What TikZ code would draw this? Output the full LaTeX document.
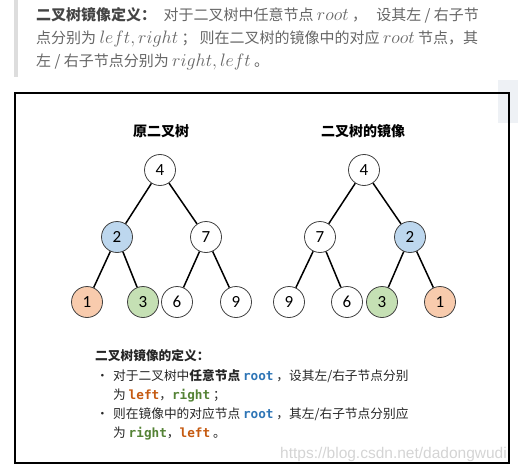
\RequirePackage{fix-cm}
\documentclass[tikz,border=0pt]{standalone}
\usepackage{fontspec}
\usepackage{xcolor}
\setmainfont{Noto Sans CJK SC}
\newfontfamily\numfont{Carlito}
\newfontfamily\codefont{DejaVu Sans Mono}
\newfontfamily\urlfont{Liberation Sans}
\usetikzlibrary{positioning}
\definecolor{nblue}{HTML}{BDD7EE}
\definecolor{norange}{HTML}{F8CBAD}
\definecolor{ngreen}{HTML}{C5E0B4}
\definecolor{cblue}{HTML}{2E75B6}
\definecolor{corange}{HTML}{C55A11}
\definecolor{cgreen}{HTML}{548235}
\definecolor{quotegray}{HTML}{DDDDDD}
\definecolor{textgray}{HTML}{666666}
\definecolor{headgray}{HTML}{444444}
\definecolor{panelgray}{HTML}{EEF1F5}
\definecolor{markgray}{HTML}{D4D4D4}
\newcommand{\code}[2]{{\codefont\bfseries\color{#1}#2}}
\newcommand{\qm}[1]{{\fontsize{18}{18}\selectfont$#1$}}
\tikzset{
  tnode/.style={circle, draw=black!75, thick, minimum size=31pt, inner sep=0pt, fill=white, font=\numfont\fontsize{17}{17}\selectfont},
  tedge/.style={line width=1.5pt, black},
  ttitle/.style={font=\fontsize{14}{16}\selectfont\bfseries},
  qline/.style={anchor=base west, inner sep=0pt, text=textgray, font=\fontsize{15}{18}\selectfont},
  dline/.style={anchor=base west, inner sep=0pt, text=black!85, font=\fontsize{12.7}{15}\selectfont}
}

\begin{document}
\begin{tikzpicture}[x=1pt, y=-1pt]
\useasboundingbox (0,0) rectangle (518,473);
% quote block
\fill[quotegray] (14,0) rectangle (18,77);
\node[qline] (q1) at (36,21) {{\color{headgray}\bfseries 二叉树镜像定义：}\hspace{4pt} 对于二叉树中任意节点 \qm{root} ，\hspace{6pt} 设其左 / 右子节};
\node[qline] (q2) at (36,44) {点分别为 \qm{left,right} ；\hspace{3pt}则在二叉树的镜像中的对应 \qm{root} 节点，其};
\node[qline] (q3) at (36,67) {左 / 右子节点分别为 \qm{right,left} 。};
% frame
\fill[panelgray] (498,80) rectangle (518,123);
\draw[line width=1.2pt] (15,93) rectangle (509,463);
% original tree
\node[ttitle] (lt) at (161,131) {原二叉树};
\node[tnode] (l4) at (160,170) {4};
\node[tnode, fill=nblue] (l2) at (117,237) {2};
\node[tnode] (l7) at (206,237) {7};
\node[tnode, fill=norange] (l1) at (87,302) {1};
\node[tnode, fill=ngreen] (l3) at (143,302) {3};
\node[tnode] (l6) at (177,302) {6};
\node[tnode] (l9) at (236,302) {9};
\draw[tedge] (l4) -- (l2); \draw[tedge] (l4) -- (l7);
\draw[tedge] (l2) -- (l1); \draw[tedge] (l2) -- (l3);
\draw[tedge] (l7) -- (l6); \draw[tedge] (l7) -- (l9);
% mirror tree
\node[ttitle] (rt) at (363,131) {二叉树的镜像};
\node[tnode] (r4) at (364,170) {4};
\node[tnode] (r7) at (320,237) {7};
\node[tnode, fill=nblue] (r2) at (410,237) {2};
\node[tnode] (r9) at (289,302) {9};
\node[tnode] (r6) at (347,302) {6};
\node[tnode, fill=ngreen] (r3) at (382,302) {3};
\node[tnode, fill=norange] (r1) at (440,302) {1};
\draw[tedge] (r4) -- (r7); \draw[tedge] (r4) -- (r2);
\draw[tedge] (r7) -- (r9); \draw[tedge] (r7) -- (r6);
\draw[tedge] (r2) -- (r3); \draw[tedge] (r2) -- (r1);
% definition text
\node[dline, font=\fontsize{12.7}{15}\selectfont\bfseries] (d0) at (95,360) {二叉树镜像的定义：};
\node[dline] (b1) at (96,380) {•};
\node[dline] (d1) at (113,380) {对于二叉树中{\bfseries 任意节点} \code{cblue}{root} ，设其左/右子节点分别};
\node[dline] (d2) at (113,399) {为 \code{corange}{left}，\code{cgreen}{right} ；};
\node[dline] (b2) at (96,418) {•};
\node[dline] (d3) at (113,418) {则在镜像中的对应节点 \code{cblue}{root} ，其左/右子节点分别应};
\node[dline] (d4) at (113,437) {为 \code{cgreen}{right}，\code{corange}{left} 。};
% watermark
\node[anchor=base east, inner sep=0pt, text=markgray, font=\urlfont\fontsize{15.5}{17}\selectfont] (wm) at (507,458) {https://blog.csdn.net/dadongwudi};
\end{tikzpicture}
\end{document}
